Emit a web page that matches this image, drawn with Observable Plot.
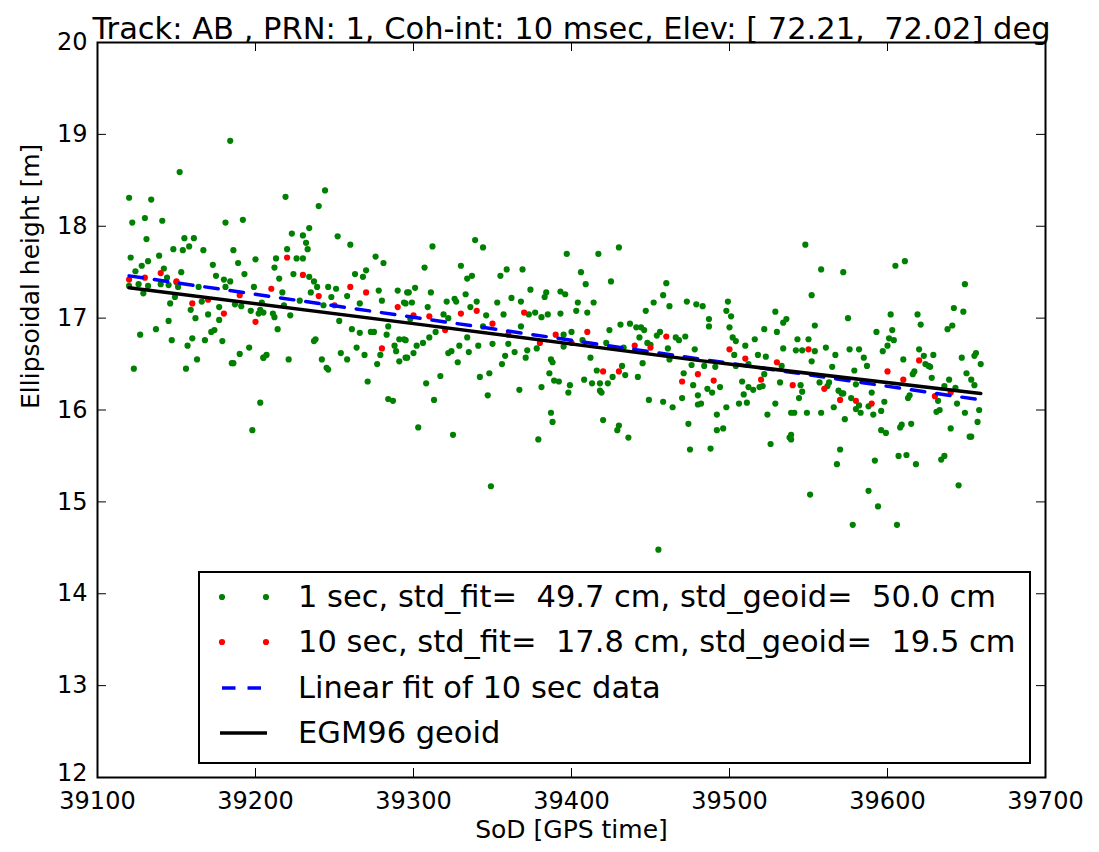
<!DOCTYPE html>
<html>
<head>
<meta charset="utf-8">
<script src="https://cdn.jsdelivr.net/npm/d3@7"></script>
<script src="https://cdn.jsdelivr.net/npm/@observablehq/plot@0.6"></script>
<style>
  html, body { margin: 0; padding: 0; background: #fff; }
  #wrap { position: relative; width: 1099px; height: 852px; font-family: "DejaVu Sans", sans-serif; }
  #legend { position: absolute; left: 198px; top: 571px; width: 833px; height: 193px; border: 2px solid #000; background: #fff; box-sizing: border-box; }
  #legend svg { position: absolute; left: 0; top: 0; width: 829px; height: 189px; overflow: visible; }
  #legend span { position: absolute; left: 98px; font-size: 30.5px; line-height: 1; white-space: pre; color: #000; transform: translateY(-50%); }
</style>
</head>
<body>
<div id="wrap"></div>
<script>
const titleText = "Track: AB , PRN: 1, Coh-int: 10 msec, Elev: [ 72.21,  72.02] deg";
const xLabel = "SoD [GPS time]";
const yLabel = "Ellipsoidal height [m]";
const xTicks = [39100, 39200, 39300, 39400, 39500, 39600, 39700];
const yTicks = [12, 13, 14, 15, 16, 17, 18, 19, 20];
const legendLabels = [
  "1 sec, std_fit=  49.7 cm, std_geoid=  50.0 cm",
  "10 sec, std_fit=  17.8 cm, std_geoid=  19.5 cm",
  "Linear fit of 10 sec data",
  "EGM96 geoid"
];

// 1-sec samples [SoD, height m]
const oneSec = [
[39184,18.93],[39152,18.59],[39120,18.31],[39134,18.29],[39122,18.04],[39130,18.09],[39141,18.06],[39181,18.04],[39192,18.07],[39131,17.86],[39155,17.87],[39161,17.87],[39158,17.78],[39148,17.75],[39154,17.74],[39167,17.74],[39186,17.74],[39121,17.66],[39139,17.68],[39132,17.62],[39200,17.64],[39173,17.58],[39189,17.60],[39128,17.57],[39124,17.51],[39142,17.54],[39153,17.50],[39193,17.48],[39144,17.44],[39175,17.46],[39180,17.42],[39184,17.40],[39120,17.35],[39126,17.37],[39132,17.35],[39140,17.37],[39145,17.36],[39150,17.39],[39151,17.34],[39164,17.34],[39181,17.34],[39199,17.34],[39129,17.27],[39149,17.23],[39146,17.16],[39166,17.18],[39187,17.15],[39191,17.13],[39159,17.09],[39177,17.12],[39170,17.04],[39162,17.00],[39177,16.98],[39197,17.08],[39202,17.05],[39203,17.09],[39145,16.97],[39137,16.88],[39127,16.82],[39174,16.87],[39172,16.85],[39147,16.76],[39160,16.78],[39168,16.76],[39179,16.75],[39157,16.70],[39196,16.68],[39190,16.61],[39205,16.57],[39163,16.55],[39185,16.51],[39186,16.51],[39123,16.45],[39156,16.45],[39203,16.08],[39198,15.78],
[39244,18.39],[39219,18.32],[39240,18.22],[39234,17.98],[39223,17.92],[39230,17.90],[39252,17.89],[39232,17.82],[39260,17.80],[39220,17.75],[39233,17.75],[39213,17.65],[39226,17.65],[39230,17.65],[39276,17.67],[39281,17.60],[39212,17.55],[39224,17.48],[39215,17.43],[39234,17.45],[39237,17.40],[39263,17.48],[39270,17.52],[39268,17.45],[39239,17.34],[39246,17.34],[39251,17.32],[39235,17.28],[39217,17.28],[39278,17.30],[39290,17.30],[39296,17.28],[39248,17.23],[39258,17.24],[39228,17.19],[39280,17.19],[39294,17.17],[39204,17.17],[39266,17.16],[39243,17.14],[39218,17.14],[39205,17.06],[39211,17.05],[39222,17.03],[39212,17.01],[39253,16.97],[39261,16.88],[39266,16.84],[39273,16.85],[39275,16.85],[39283,16.82],[39284,16.91],[39214,16.88],[39238,16.77],[39237,16.75],[39291,16.77],[39294,16.77],[39288,16.70],[39289,16.64],[39264,16.68],[39254,16.62],[39207,16.60],[39205,16.57],[39221,16.55],[39242,16.55],[39258,16.55],[39269,16.60],[39279,16.60],[39295,16.57],[39291,16.53],[39277,16.50],[39245,16.46],[39246,16.44],[39271,16.31],[39284,16.12],[39287,16.10],
[39339,17.85],[39312,17.78],[39344,17.77],[39307,17.55],[39330,17.57],[39359,17.53],[39369,17.53],[39355,17.46],[39337,17.46],[39334,17.43],[39301,17.33],[39297,17.28],[39311,17.28],[39333,17.26],[39374,17.31],[39384,17.28],[39383,17.23],[39321,17.18],[39326,17.21],[39327,17.18],[39340,17.18],[39353,17.17],[39362,17.22],[39368,17.18],[39299,17.17],[39295,17.16],[39309,17.12],[39336,17.12],[39346,17.03],[39357,17.04],[39319,17.04],[39322,17.00],[39373,17.04],[39377,17.06],[39381,17.01],[39385,17.04],[39298,16.99],[39344,16.91],[39368,16.91],[39314,16.85],[39310,16.79],[39334,16.79],[39295,16.76],[39306,16.73],[39302,16.70],[39329,16.70],[39341,16.70],[39350,16.72],[39360,16.72],[39378,16.67],[39372,16.65],[39364,16.63],[39300,16.62],[39324,16.64],[39322,16.62],[39335,16.63],[39296,16.57],[39358,16.59],[39371,16.57],[39387,16.55],[39388,16.52],[39356,16.50],[39328,16.52],[39386,16.40],[39389,16.32],[39348,16.40],[39342,16.36],[39317,16.37],[39308,16.29],[39381,16.25],[39367,16.22],[39313,16.11],[39347,16.16],[39387,15.97],[39388,15.87],[39303,15.81],[39325,15.73],[39379,15.68],[39349,15.17],
[39430,17.77],[39397,17.70],[39417,17.70],[39406,17.50],[39425,17.40],[39409,17.37],[39460,17.38],[39393,17.29],[39396,17.26],[39458,17.25],[39404,17.17],[39414,17.17],[39452,17.17],[39473,17.18],[39479,17.15],[39462,17.13],[39403,17.08],[39410,17.06],[39447,17.08],[39393,17.05],[39431,16.93],[39437,16.94],[39441,16.90],[39444,16.90],[39446,16.87],[39424,16.87],[39400,16.85],[39395,16.82],[39443,16.79],[39454,16.81],[39456,16.85],[39466,16.79],[39468,16.76],[39472,16.80],[39407,16.76],[39422,16.73],[39433,16.68],[39395,16.69],[39448,16.73],[39450,16.71],[39461,16.67],[39462,16.55],[39478,16.66],[39412,16.57],[39445,16.51],[39476,16.49],[39432,16.48],[39416,16.43],[39426,16.36],[39434,16.38],[39442,16.36],[39471,16.40],[39408,16.33],[39392,16.31],[39413,16.29],[39418,16.29],[39423,16.29],[39399,16.27],[39477,16.27],[39418,16.21],[39419,16.19],[39398,16.19],[39449,16.11],[39458,16.09],[39470,16.13],[39464,16.03],[39480,16.06],[39420,15.89],[39430,15.83],[39429,15.78],[39436,15.70],[39474,15.85],[39475,15.57],[39455,14.48],
[39548,17.80],[39558,17.53],[39572,17.50],[39552,17.25],[39483,17.13],[39499,17.18],[39498,17.08],[39501,17.02],[39529,17.07],[39536,16.99],[39534,16.95],[39487,16.99],[39487,16.91],[39500,16.90],[39522,16.88],[39530,16.85],[39554,16.92],[39502,16.79],[39504,16.75],[39516,16.77],[39543,16.77],[39550,16.77],[39510,16.70],[39534,16.67],[39542,16.65],[39546,16.65],[39554,16.64],[39561,16.68],[39503,16.60],[39518,16.60],[39523,16.58],[39567,16.60],[39552,16.53],[39565,16.47],[39484,16.48],[39491,16.47],[39504,16.48],[39512,16.50],[39533,16.48],[39522,16.39],[39508,16.31],[39532,16.30],[39563,16.30],[39562,16.26],[39557,16.30],[39545,16.27],[39546,16.20],[39544,16.13],[39512,16.25],[39515,16.22],[39519,16.25],[39521,16.26],[39494,16.25],[39486,16.23],[39489,16.19],[39480,16.16],[39482,16.07],[39509,16.17],[39506,16.07],[39511,16.08],[39569,16.21],[39571,16.18],[39529,16.07],[39498,16.03],[39566,16.03],[39492,15.95],[39524,15.95],[39539,15.97],[39541,15.97],[39549,15.97],[39558,15.97],[39573,15.90],[39496,15.80],[39492,15.78],[39539,15.73],[39538,15.70],[39539,15.68],[39526,15.63],[39488,15.58],[39570,15.57],[39568,15.41],[39551,15.08],
[39605,17.57],[39611,17.62],[39649,17.37],[39575,17.00],[39602,17.04],[39619,17.04],[39621,16.93],[39642,17.11],[39648,17.07],[39638,16.88],[39641,16.92],[39593,16.85],[39603,16.87],[39601,16.78],[39604,16.76],[39600,16.70],[39597,16.64],[39576,16.66],[39582,16.66],[39585,16.57],[39587,16.48],[39610,16.55],[39620,16.66],[39623,16.59],[39629,16.60],[39647,16.57],[39656,16.62],[39655,16.59],[39659,16.50],[39626,16.48],[39627,16.47],[39624,16.50],[39579,16.43],[39617,16.42],[39616,16.39],[39628,16.35],[39650,16.40],[39639,16.33],[39653,16.33],[39655,16.27],[39580,16.28],[39636,16.26],[39643,16.24],[39572,16.18],[39590,16.19],[39614,16.16],[39613,16.13],[39577,16.13],[39632,16.10],[39598,16.09],[39644,16.07],[39582,16.05],[39580,16.01],[39583,15.97],[39588,16.04],[39591,15.95],[39596,15.99],[39633,16.00],[39631,15.98],[39649,15.97],[39658,16.00],[39657,15.87],[39596,15.78],[39599,15.75],[39609,15.84],[39608,15.81],[39615,15.85],[39640,15.80],[39652,15.71],[39653,15.71],[39592,15.45],[39607,15.50],[39612,15.51],[39618,15.41],[39634,15.46],[39636,15.50],[39588,15.12],[39594,14.95],[39645,15.18],[39578,14.75],[39606,14.75]
];

// 10-sec averages
const tenSecTime = [39120,39130,39140,39150,39160,39170,39180,39190,39200,39210,39220,39230,39240,39250,39260,39270,39280,39290,39300,39310,39320,39330,39340,39350,39360,39370,39380,39390,39400,39410,39420,39430,39440,39450,39460,39470,39480,39490,39500,39510,39520,39530,39540,39550,39560,39570,39580,39590,39600,39610,39620,39630,39640];
const tenSecHeight = [17.42,17.44,17.49,17.40,17.16,17.20,17.05,17.25,16.96,17.32,17.66,17.47,17.24,17.14,17.34,17.28,16.67,17.12,17.03,17.02,16.87,17.05,17.08,16.94,16.82,17.06,16.73,16.82,16.73,16.85,16.42,16.42,16.70,16.68,16.80,16.31,16.39,16.32,16.66,16.56,16.33,16.52,16.27,16.66,16.23,16.11,16.10,16.07,16.42,16.33,16.54,16.15,16.19];

// Linear fit of the 10-sec data (end points)
const fitTime = [39120, 39659];
const fitHeight = [17.46, 16.11];

// EGM96 geoid
const geoidTime = [39120, 39300, 39480, 39659];
const geoidHeight = [17.33, 16.94, 16.54, 16.18];

const green = "#008000", red = "#ff0000", blue = "#0000ff";
const tenSec = tenSecTime.map((t, i) => ({t, h: tenSecHeight[i]}));
const fit = fitTime.map((t, i) => ({t, h: fitHeight[i]}));
const geoid = geoidTime.map((t, i) => ({t, h: geoidHeight[i]}));

const W = 1099, H = 852, mL = 97, mR = 54, mT = 42, mB = 75;
const fw = W - mL - mR, fh = H - mT - mB, tl = 9;
const dotR = 3.1, lineW = 3.5, dash = "13.5,12";
const yMin = d3.min(yTicks);

const chart = Plot.plot({
  width: W, height: H,
  marginLeft: mL, marginRight: mR, marginTop: mT, marginBottom: mB,
  style: {fontFamily: "DejaVu Sans, sans-serif", background: "#fff", color: "#000"},
  x: {domain: [39100, 39700]},
  y: {domain: [12, 20]},
  marks: [
    Plot.dot(oneSec, {x: d => d[0], y: d => d[1], r: dotR, fill: green, stroke: "none"}),
    Plot.dot(tenSec, {x: "t", y: "h", r: dotR, fill: red, stroke: "none"}),
    Plot.line(fit, {x: "t", y: "h", stroke: blue, strokeWidth: lineW, strokeDasharray: dash}),
    Plot.line(geoid, {x: "t", y: "h", stroke: "#000", strokeWidth: lineW}),
    Plot.frame({stroke: "#000", strokeWidth: 2}),
    Plot.tickX(xTicks, {x: d => d, insetTop: fh - tl, stroke: "#000", strokeWidth: 1}),
    Plot.tickX(xTicks, {x: d => d, insetBottom: fh - tl, stroke: "#000", strokeWidth: 1}),
    Plot.tickY(yTicks, {y: d => d, insetRight: fw - tl, stroke: "#000", strokeWidth: 1}),
    Plot.tickY(yTicks, {y: d => d, insetLeft: fw - tl, stroke: "#000", strokeWidth: 1}),
    Plot.axisX(xTicks, {anchor: "bottom", tickSize: 0, tickPadding: 14, fontSize: 24, tickFormat: d => String(d), label: null}),
    Plot.axisY(yTicks.filter(d => d !== yMin), {anchor: "left", tickSize: 0, tickPadding: 10, fontSize: 24, tickFormat: d => String(d), label: null}),
    Plot.axisY(yTicks.filter(d => d === yMin), {anchor: "left", tickSize: 0, tickPadding: 10, dy: -4, fontSize: 24, tickFormat: d => String(d), label: null}),
    Plot.text([xLabel], {text: d => d, frameAnchor: "bottom", dy: 60, fontSize: 25, fill: "#000"}),
    Plot.text([yLabel], {text: d => d, frameAnchor: "left", dx: -67, dy: -1, rotate: -90, fontSize: 25, fill: "#000"}),
    Plot.text([titleText], {text: d => d, frameAnchor: "top", dy: -25, fontSize: 30.5, fill: "#000"})
  ]
});

const wrap = document.getElementById("wrap");
wrap.appendChild(chart);

// legend (origin of inner box at page x=200, y=573)
const ox = 200, oy = 573;
const rowY = [597, 642, 688, 733].map(y => y - oy);
const legend = document.createElement("div");
legend.id = "legend";
const x1 = 222 - ox, x2 = 266 - ox;
legend.innerHTML = `<svg>
  <circle cx="${x1}" cy="${rowY[0]}" r="${dotR}" fill="${green}"/><circle cx="${x2}" cy="${rowY[0]}" r="${dotR}" fill="${green}"/>
  <circle cx="${x1}" cy="${rowY[1]}" r="${dotR}" fill="${red}"/><circle cx="${x2}" cy="${rowY[1]}" r="${dotR}" fill="${red}"/>
  <line x1="${x1}" x2="${261 - ox}" y1="${rowY[2]}" y2="${rowY[2]}" stroke="${blue}" stroke-width="${lineW}" stroke-dasharray="${dash}"/>
  <line x1="${220 - ox}" x2="${267 - ox}" y1="${rowY[3]}" y2="${rowY[3]}" stroke="#000" stroke-width="${lineW}"/>
</svg>`;
legendLabels.forEach((lab, i) => {
  const span = document.createElement("span");
  span.style.top = rowY[i] + "px";
  span.textContent = lab;
  legend.appendChild(span);
});
wrap.appendChild(legend);
</script>
</body>
</html>
